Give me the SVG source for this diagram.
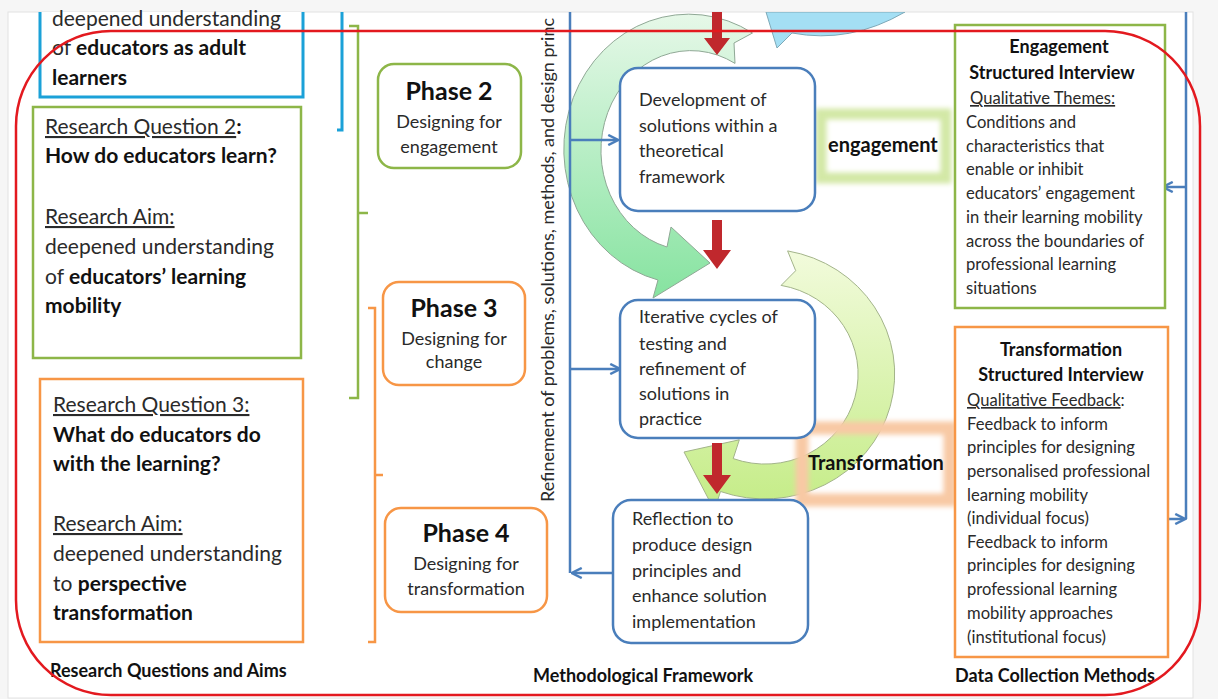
<svg xmlns="http://www.w3.org/2000/svg" width="1218" height="699" viewBox="0 0 1218 699">
<defs>
<style>
text{font-family:Lato,"Liberation Sans",sans-serif;fill:#2a2a2a}
.b{font-weight:bold;fill:#111}
.lq{font-size:21px}
.ph{font-size:25px;font-weight:bold;fill:#111;text-anchor:middle}
.ps{font-size:18px;text-anchor:middle}
.cb{font-size:18px}
.rb{font-size:16.6px}
.rh{font-size:18px;font-weight:bold;fill:#111;text-anchor:middle}
.ft{font-size:18px;font-weight:bold;fill:#111}
.u{text-decoration:underline}
.bl{fill:none;stroke:#4a7ebb;stroke-width:2.5}
.cbox{fill:#fff;stroke:#4a7ebb;stroke-width:2.5}
.red{fill:#c0282d}
</style>
<marker id="ah" viewBox="0 0 10 10" refX="8" refY="5" markerWidth="5" markerHeight="5" orient="auto" markerUnits="strokeWidth">
<path d="M1,1 L9,5 L1,9" fill="none" stroke="#4a7ebb" stroke-width="2"/>
</marker>
<linearGradient id="g1" x1="0" y1="0" x2="0" y2="1">
<stop offset="0" stop-color="#e6f8e8"/>
<stop offset="1" stop-color="#86e3a0"/>
</linearGradient>
<linearGradient id="g2" x1="0" y1="0" x2="0" y2="1">
<stop offset="0" stop-color="#f2fbdc"/>
<stop offset="1" stop-color="#c4ec86"/>
</linearGradient>
<filter id="blur" x="-20%" y="-20%" width="140%" height="140%"><feGaussianBlur stdDeviation="2.5"/></filter>
<clipPath id="clipTop"><rect x="0" y="12" width="1218" height="687"/></clipPath>
</defs>

<rect x="0" y="0" width="1218" height="699" fill="#f6f6f6"/>
<rect x="8" y="12" width="1185" height="686" fill="#fff" stroke="#e2e2e2" stroke-width="1"/>

<g id="cycle-arcs" clip-path="url(#clipTop)">
<path d="M766 12 L777 48 L792 33 Q850 44 905 12 Z" fill="#a4dff4" stroke="#7ea9b8" stroke-width="1"/>
<path d="M752.5 33 A125 135 0 1 0 658 280 L653 298 L710 263 L671 227 L667 247 A90 100 0 1 1 735 63.4 L734 43 Z" fill="url(#g1)" stroke="#8fa895" stroke-width="1"/>
<path d="M787.6 250.9 A130 125 0 1 1 720.5 491.5 L714.4 510.3 L684 452 L739.3 439.8 L733.2 458.6 A93 90 0 1 0 781.1 285.4 L795.7 270.7 Z" fill="url(#g2)" stroke="#a3b48a" stroke-width="1"/>
</g>

<g id="labels-glow">
<rect x="821" y="114" width="125" height="64" fill="none" stroke="#d3e8a6" stroke-width="11" filter="url(#blur)"/>
<rect x="802" y="428" width="148" height="72" fill="none" stroke="#f8c9a4" stroke-width="13" filter="url(#blur)"/>
</g>

<g id="connectors">
<path class="bl" d="M570 12 L570 573"/>
<path class="bl" d="M570 140 L617 140" marker-end="url(#ah)"/>
<path class="bl" d="M570 369 L619 369" marker-end="url(#ah)"/>
<path class="bl" d="M613 573 L573 573" marker-end="url(#ah)"/>
<path class="bl" d="M1186 12 L1186 519"/>
<path class="bl" d="M1186 187 L1164 187" marker-end="url(#ah)"/>
<path class="bl" d="M1168 519 L1184 519" marker-end="url(#ah)"/>
<path class="red" d="M712 12 L722 12 L722 38 L730 38 L717 55 L704 38 L712 38 Z"/>
<path class="red" d="M712 220 L722 220 L722 250 L731 250 L717 269 L703 250 L712 250 Z"/>
<path class="red" d="M712 443 L722 443 L722 475 L731 475 L717 494 L703 475 L712 475 Z"/>
<path d="M337 130 L342 130 L342 12" fill="none" stroke="#1ba1d8" stroke-width="3"/>
<path d="M349 26 L358 26 L358 398 L349 398 M358 213 L368 213" fill="none" stroke="#8db648" stroke-width="2.5"/>
<path d="M368 308 L375 308 L375 642 L368 642 M375 475 L383 475" fill="none" stroke="#f79646" stroke-width="2.5"/>
</g>

<g id="rq1">
<path d="M40 12 L40 97 L303 97 L303 12" fill="#fff" stroke="#1ba1d8" stroke-width="3"/>
<text class="lq" x="52" y="26">deepened understanding</text>
<text class="lq" x="52" y="55">of <tspan class="b">educators as adult</tspan></text>
<text class="lq b" x="52" y="85">learners</text>
</g>

<g id="rq2">
<rect x="33" y="107" width="268" height="251" fill="#fff" stroke="#8db648" stroke-width="2.5"/>
<text class="lq" x="45" y="134"><tspan class="u">Research Question 2</tspan><tspan class="b">:</tspan></text>
<text class="lq b" x="45" y="163">How do educators learn?</text>
<text class="lq u" x="45" y="224">Research Aim:</text>
<text class="lq" x="45" y="254">deepened understanding</text>
<text class="lq" x="45" y="284">of <tspan class="b">educators’ learning</tspan></text>
<text class="lq b" x="45" y="313">mobility</text>
</g>

<g id="rq3">
<rect x="40" y="379" width="263" height="263" fill="#fff" stroke="#f79646" stroke-width="2.5"/>
<text class="lq u" x="53" y="412">Research Question 3:</text>
<text class="lq b" x="53" y="442">What do educators do</text>
<text class="lq b" x="53" y="471">with the learning?</text>
<text class="lq u" x="53" y="531">Research Aim:</text>
<text class="lq" x="53" y="561">deepened understanding</text>
<text class="lq" x="53" y="591">to <tspan class="b">perspective</tspan></text>
<text class="lq b" x="53" y="620">transformation</text>
</g>

<g id="phase2">
<rect x="378" y="64" width="143" height="104" rx="16" fill="#fff" stroke="#8db648" stroke-width="2.5"/>
<text class="ph" x="449" y="100">Phase 2</text>
<text class="ps" x="449" y="128">Designing for</text>
<text class="ps" x="449" y="153">engagement</text>
</g>
<g id="phase3">
<rect x="383" y="282" width="142" height="103" rx="16" fill="#fff" stroke="#f79646" stroke-width="2.5"/>
<text class="ph" x="454" y="317">Phase 3</text>
<text class="ps" x="454" y="345">Designing for</text>
<text class="ps" x="454" y="368">change</text>
</g>
<g id="phase4">
<rect x="385" y="508" width="162" height="104" rx="16" fill="#fff" stroke="#f79646" stroke-width="2.5"/>
<text class="ph" x="466" y="542">Phase 4</text>
<text class="ps" x="466" y="570">Designing for</text>
<text class="ps" x="466" y="595">transformation</text>
</g>

<g id="refinement-label" clip-path="url(#clipTop)">
<text x="0" y="0" font-size="18" transform="translate(554 502) rotate(-90)">Refinement of problems, solutions, methods, and design princ</text>
</g>

<g id="development">
<rect class="cbox" x="620" y="68" width="195" height="143" rx="18"/>
<text class="cb" x="639" y="106">Development of</text>
<text class="cb" x="639" y="132">solutions within a</text>
<text class="cb" x="639" y="157">theoretical</text>
<text class="cb" x="639" y="183">framework</text>
</g>
<g id="iterative">
<rect class="cbox" x="620" y="300" width="195" height="138" rx="18"/>
<text class="cb" x="639" y="323">Iterative cycles of</text>
<text class="cb" x="639" y="350">testing and</text>
<text class="cb" x="639" y="375">refinement of</text>
<text class="cb" x="639" y="400">solutions in</text>
<text class="cb" x="639" y="425">practice</text>
</g>
<g id="reflection">
<rect class="cbox" x="613" y="500" width="195" height="143" rx="18"/>
<text class="cb" x="632" y="525">Reflection to</text>
<text class="cb" x="632" y="551">produce design</text>
<text class="cb" x="632" y="577">principles and</text>
<text class="cb" x="632" y="602">enhance solution</text>
<text class="cb" x="632" y="628">implementation</text>
</g>

<g id="engagement-label">
<text class="b" x="828" y="152" font-size="20">engagement</text>
</g>
<g id="transformation-label">
<text class="b" x="808" y="470" font-size="20">Transformation</text>
</g>

<g id="engagement-interview">
<rect x="955" y="25" width="210" height="283" fill="#fff" stroke="#8db648" stroke-width="2.5"/>
<text class="rh" x="1059" y="53">Engagement</text>
<text class="rh" x="1052" y="79">Structured Interview</text>
<text class="rb u" x="970" y="104">Qualitative Themes:</text>
<text class="rb" x="966" y="128">Conditions and</text>
<text class="rb" x="966" y="152">characteristics that</text>
<text class="rb" x="966" y="175">enable or inhibit</text>
<text class="rb" x="966" y="199">educators’ engagement</text>
<text class="rb" x="966" y="223">in their learning mobility</text>
<text class="rb" x="966" y="247">across the boundaries of</text>
<text class="rb" x="966" y="270">professional learning</text>
<text class="rb" x="966" y="294">situations</text>
</g>

<g id="transformation-interview">
<rect x="955" y="327" width="213" height="330" fill="#fff" stroke="#f79646" stroke-width="2.5"/>
<text class="rh" x="1061" y="356">Transformation</text>
<text class="rh" x="1061" y="381">Structured Interview</text>
<text class="rb" x="967" y="406"><tspan class="u">Qualitative Feedback</tspan>:</text>
<text class="rb" x="967" y="430">Feedback to inform</text>
<text class="rb" x="967" y="453">principles for designing</text>
<text class="rb" x="967" y="477">personalised professional</text>
<text class="rb" x="967" y="501">learning mobility</text>
<text class="rb" x="967" y="524">(individual focus)</text>
<text class="rb" x="967" y="548">Feedback to inform</text>
<text class="rb" x="967" y="571">principles for designing</text>
<text class="rb" x="967" y="595">professional learning</text>
<text class="rb" x="967" y="619">mobility approaches</text>
<text class="rb" x="967" y="643">(institutional focus)</text>
</g>

<g id="footer-labels">
<text class="ft" x="50" y="677">Research Questions and Aims</text>
<text class="ft" x="533" y="682">Methodological Framework</text>
<text class="ft" x="955" y="682">Data Collection Methods</text>
</g>

<g id="highlight">
<rect x="16" y="31" width="1184" height="664" rx="95" fill="none" stroke="#e3191f" stroke-width="2.5"/>
</g>
</svg>
